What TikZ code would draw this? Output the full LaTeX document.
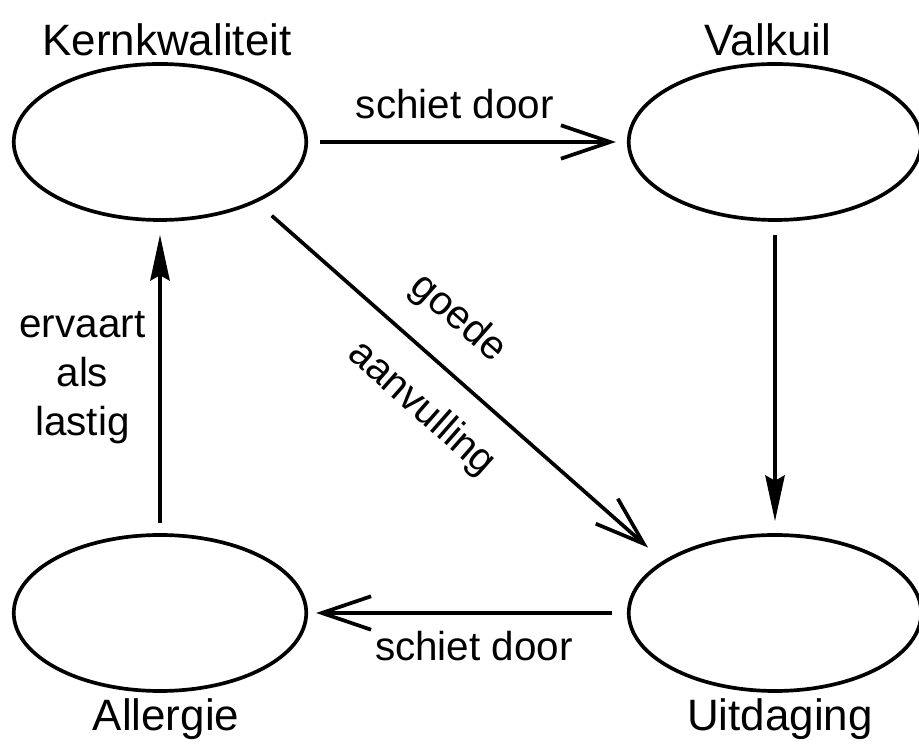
\documentclass[tikz,border=0pt]{standalone}
\usepackage{fontspec}
\setmainfont{Liberation Sans}
\usetikzlibrary{shapes.geometric,arrows.meta}
\begin{document}
\begin{tikzpicture}

      \tikzset{quality/.style={draw, ellipse, line width=2.1pt, inner sep=0pt, minimum width=5.85cm, minimum height=3.12cm},
               every label/.style={font=\fontsize{25}{30}\selectfont},
               lbl/.style={font=\fontsize{23}{28}\selectfont, align=center},
               barb/.style={-{Straight Barb[length=28pt, width=19pt]}, line width=2.1pt},
               kite/.style={-{Stealth[length=26pt, width=11pt, inset=3pt]}, line width=2.1pt}}
      \useasboundingbox (0,0) rectangle (18.38,14.98);
%% Vertices
      	\node[quality, label={[xshift=.14cm]above:Kernkwaliteit}] (kern) at (3.2,12.14) {};
      	\node[quality, label={[xshift=-.14cm]above:Valkuil}] (valk) at (15.5,12.14) {};
      	\node[quality, label={[xshift=.12cm]below:Allergie}] (aller) at (3.2,2.72) {};
      	\node[quality, label={[xshift=.1cm]below:Uitdaging}] (uitd) at (15.5,2.72) {};
%Edges
		\path [barb, shorten <=.24cm, shorten >=.22cm](kern) edge node[lbl, pos=.46, above=9pt] {schiet door} (valk);
		\path [kite, shorten <=.26cm, shorten >=.24cm](valk) edge node {} (uitd);
		\path [barb, shorten <=.3cm, shorten >=.16cm](uitd) edge node[lbl, pos=.48, below=6pt] {schiet door} (aller);
		\path [kite, shorten <=.2cm, shorten >=.26cm](aller) edge node[lbl, midway, left=4pt] {ervaart\\als\\lastig} (kern);
		\path [barb, shorten <=.4cm, shorten >=.4cm](kern.-32) edge node[lbl, pos=.42, sloped, above=11pt] {goede} node[lbl, pos=.48, sloped, below=11pt] {aanvulling} (uitd.155);

	\end{tikzpicture}
\end{document}
